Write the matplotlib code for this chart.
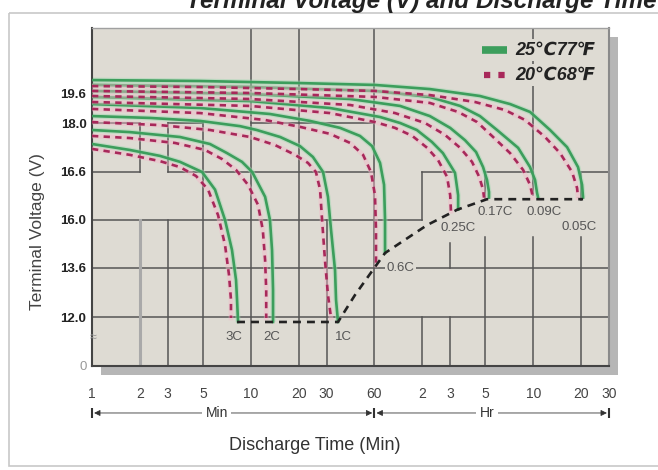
import numpy as np
import matplotlib
matplotlib.use('Agg')
import matplotlib.pyplot as plt
from matplotlib.patches import Rectangle

plt.rcParams['font.family'] = ['Liberation Sans', 'DejaVu Sans']

# ---------------- axis definitions ----------------
x_ticks = [1, 2, 3, 5, 10, 20, 30, 60, 120, 180, 300, 600, 1200, 1800]
x_tick_labels = ['1', '2', '3', '5', '10', '20', '30', '60', '2', '3', '5', '10', '20', '30']
y_ticks = [0, 12.0, 13.6, 16.0, 16.6, 18.0, 19.6]
y_tick_labels = ['0', '12.0', '13.6', '16.0', '16.6', '18.0', '19.6']
# the original voltage axis is not linear: value -> grid position
volt_knots = [0, 12.0, 13.6, 16.0, 16.6, 18.0, 19.6, 23.07]
grid_pos = [0, 49, 98, 146, 194, 243, 273, 338]

# ---------------- data (time in minutes, voltage) ----------------
rates = ['0.05C', '0.09C', '0.17C', '0.25C', '0.6C', '1C', '2C', '3C']

# 25C / 77F (green, solid)
g005_t = [1, 4.8, 20.4, 60.5, 134, 277, 429, 573, 766, 980, 1149, 1218, 1236]
g005_v = [20.29, 20.24, 20.13, 20.03, 19.81, 19.44, 19.01, 18.59, 17.80, 17.31, 16.74, 16.44, 16.28]
g009_t = [1, 9.9, 60.5, 134, 208, 277, 355, 482, 573, 616, 634, 644]
g009_v = [20.03, 19.92, 19.71, 19.39, 18.91, 18.37, 17.80, 17.29, 16.74, 16.50, 16.34, 16.28]
g017_t = [1, 9.9, 42.2, 87.1, 134, 180, 223, 262, 290, 307, 316, 316]
g017_v = [19.71, 19.55, 19.28, 18.91, 18.37, 17.86, 17.51, 17.17, 16.74, 16.50, 16.35, 16.28]
g025_t = [1, 9.9, 31.5, 65.1, 87.1, 111, 138, 162, 193, 202, 202]
g025_v = [19.39, 19.17, 18.80, 18.32, 18.00, 17.80, 17.46, 17.14, 16.59, 16.31, 16.13]
g06_t = [1, 4.8, 13.2, 23.6, 36.5, 48.7, 58.0, 65.1, 69.0, 70.0, 70.0]
g06_v = [19.01, 18.80, 18.48, 18.11, 17.86, 17.63, 17.34, 16.86, 16.44, 16.00, 14.35]
g1_t = [1, 2.32, 4.8, 8.55, 10.9, 15.3, 20.4, 24.6, 28.5, 30.6, 32.0, 33.9, 34.4, 35.4]
g1_v = [18.37, 18.27, 18.11, 17.91, 17.80, 17.60, 17.34, 17.03, 16.60, 16.29, 15.50, 13.53, 12.56, 10.78]
g2_t = [1, 1.73, 3.58, 5.53, 7.08, 8.80, 10.2, 12.3, 13.2, 13.6, 13.8, 13.8]
g2_v = [17.80, 17.74, 17.60, 17.40, 17.14, 16.89, 16.60, 16.29, 16.00, 14.50, 12.88, 10.78]
g3_t = [1, 1.73, 2.68, 3.58, 4.93, 5.95, 6.88, 7.61, 8.07, 8.19, 8.31]
g3_v = [17.40, 17.23, 17.06, 16.89, 16.60, 16.38, 16.00, 14.50, 13.21, 12.56, 10.78]

# 20C / 68F (red, dashed)
r005_t = [1, 4.8, 20.4, 60.5, 134, 258, 399, 533, 712, 885, 1054, 1133, 1149]
r005_v = [19.97, 19.92, 19.81, 19.71, 19.49, 19.12, 18.69, 18.16, 17.60, 17.14, 16.60, 16.40, 16.28]
r009_t = [1, 9.9, 60.5, 134, 202, 266, 330, 429, 518, 573, 598]
r009_v = [19.71, 19.60, 19.39, 19.07, 18.59, 18.05, 17.63, 17.14, 16.66, 16.44, 16.28]
r017_t = [1, 9.9, 42.2, 80.9, 125, 167, 208, 247, 274, 290, 294]
r017_v = [19.44, 19.28, 18.96, 18.53, 18.00, 17.66, 17.29, 16.89, 16.54, 16.38, 16.28]
r025_t = [1, 9.9, 31.5, 60.5, 80.9, 104, 129, 151, 172, 180, 182]
r025_v = [19.12, 18.91, 18.53, 18.05, 17.86, 17.63, 17.29, 16.94, 16.54, 16.31, 16.11]
r06_t = [1, 4.8, 12.3, 20.4, 31.5, 42.2, 50.9, 57.1, 60.5, 61.4, 61.4]
r06_v = [18.75, 18.53, 18.16, 17.89, 17.69, 17.43, 17.09, 16.60, 16.31, 15.50, 13.75]
r1_t = [1, 2.68, 5.53, 9.9, 14.2, 19.0, 22.9, 25.7, 27.3, 28.1, 29.3, 30.6, 32.0]
r1_v = [18.05, 17.94, 17.80, 17.60, 17.37, 17.09, 16.86, 16.60, 16.38, 16.00, 14.00, 12.72, 11.76]
r2_t = [1, 1.73, 3.33, 5.15, 6.59, 8.07, 9.60, 11.1, 11.9, 12.3, 12.5, 12.5]
r2_v = [17.63, 17.57, 17.43, 17.23, 16.97, 16.66, 16.44, 16.19, 15.50, 14.00, 12.88, 11.76]
r3_t = [1, 1.73, 2.68, 3.58, 4.52, 5.38, 6.22, 6.88, 7.29, 7.50, 7.50]
r3_v = [17.26, 17.09, 16.91, 16.74, 16.55, 16.38, 16.06, 14.75, 13.37, 12.56, 11.76]

# end-of-discharge line
cut_t = [8.19, 35.4, 45.3, 60.5, 70.0, 129, 200, 307, 1236]
cut_v = [10.78, 10.78, 12.72, 13.65, 14.35, 15.75, 16.13, 16.26, 16.26]

green_curves = [(g005_t, g005_v), (g009_t, g009_v), (g017_t, g017_v), (g025_t, g025_v),
                (g06_t, g06_v), (g1_t, g1_v), (g2_t, g2_v), (g3_t, g3_v)]
red_curves = [(r005_t, r005_v), (r009_t, r009_v), (r017_t, r017_v), (r025_t, r025_v),
              (r06_t, r06_v), (r1_t, r1_v), (r2_t, r2_v), (r3_t, r3_v)]

# label anchor (time, voltage) for each rate
label_t = [1167, 702, 345, 202, 87.1, 38.1, 13.6, 7.8]
label_v = [15.65, 16.10, 16.10, 15.60, 13.62, 7.1, 7.1, 7.1]

# ---------------- figure ----------------
BG = '#dedbd3'
GRID = '#555555'
GREEN = '#3c9e5c'
RED = '#a8285a'
W, H = 658, 470
fig = plt.figure(figsize=(W / 100, H / 100), dpi=100)

# decoration layer in pixel coordinates
deco = fig.add_axes([0, 0, 1, 1], zorder=0)
deco.set_xlim(0, W)
deco.set_ylim(H, 0)
deco.axis('off')
deco.add_patch(Rectangle((9, 13), 700, 453, fill=False, ec='#c8c8c8', lw=1.2))
deco.add_patch(Rectangle((101, 37), 517, 338, fc='#b6b6b6', ec='none'))
deco.text(186, 8, 'Terminal Voltage (V) and Discharge Time', fontsize=17.5,
          fontweight='bold', fontstyle='italic', color='#222222', va='baseline')

L, R, T, B = 92, 609, 28, 366
ax = fig.add_axes([L / W, (H - B) / H, (R - L) / W, (B - T) / H], zorder=1)
ax.set_facecolor(BG)
ax.set_xscale('log')
ax.set_yscale('function', functions=(lambda v: np.interp(v, volt_knots, grid_pos),
                                     lambda p: np.interp(p, grid_pos, volt_knots)))
ax.set_xlim(1, 1800)
ytop = volt_knots[-1]
ax.set_ylim(0, ytop)

# irregular grid of the original chart
hsegs = [(12.0, 1, 1800), (13.6, 1, 1800), (16.0, 1, 120), (16.6, 1, 2), (16.6, 3, 60),
         (16.6, 120, 190), (16.6, 300, 600), (16.6, 1200, 1800), (18.0, 1, 2),
         (18.0, 3, 5), (18.0, 10, 60)]
vsegs = [(2, 16.6, 18.0), (3, 16.6, 18.0), (3, 0, 16.0), (5, 0, 18.0), (10, 0, ytop),
         (20, 0, ytop), (30, 0, 16.0), (60, 0, ytop), (120, 16.0, 16.6), (120, 0, 12.0),
         (180, 13.6, 14.85), (180, 0, 12.0), (300, 16.25, 16.6), (300, 0, 15.15),
         (600, 16.31, ytop), (600, 0, 15.15), (1200, 16.25, 16.6), (1200, 0, 15.15)]
for yv, x0, x1 in hsegs:
    ax.plot([x0, x1], [yv, yv], color=GRID, lw=1.1, zorder=1)
for xv, y0, y1 in vsegs:
    ax.plot([xv, xv], [y0, y1], color=GRID, lw=1.1, zorder=1)
ax.plot([2, 2], [0, 16.0], color='#a9a9a9', lw=2.2, zorder=1)

for t, v in green_curves:
    ax.plot(t, v, color='#9fd8b0', lw=3.6, alpha=0.5, zorder=2, solid_capstyle='butt')
    ax.plot(t, v, color=GREEN, lw=1.9, zorder=3)
for t, v in red_curves:
    ax.plot(t, v, color='#f2b8c8', lw=3.4, alpha=0.45, zorder=4)
    ax.plot(t, v, color=RED, lw=1.9, dashes=(2.4, 2.0), zorder=5)
ax.plot(cut_t, cut_v, color='#222222', lw=1.9, dashes=(3.0, 2.3), zorder=6)

for name, lt, lv in zip(rates, label_t, label_v):
    ax.text(lt, lv, name, fontsize=9.5, color='#555555', ha='center', va='center', zorder=7,
            bbox=dict(fc=BG, ec='none', pad=1.0))
ax.text(1.02, 6.9, '≈', fontsize=9, color='#999999', ha='center', va='center', zorder=7)

# ticks
ax.set_xticks(x_ticks)
ax.set_xticklabels(x_tick_labels)
ax.xaxis.set_minor_locator(matplotlib.ticker.NullLocator())
ax.set_yticks(y_ticks)
ax.set_yticklabels(y_tick_labels)
ax.yaxis.set_minor_locator(matplotlib.ticker.NullLocator())
ax.tick_params(axis='x', length=0, pad=15, labelsize=10, labelcolor='#444444')
ax.tick_params(axis='y', length=0, pad=4, labelsize=9.5, labelcolor='#222222')
for lab in ax.get_yticklabels():
    lab.set_fontweight('bold')
ax.get_yticklabels()[0].set_fontweight('normal')
ax.get_yticklabels()[0].set_color('#999999')

for side, col, lw in [('left', '#444444', 1.5), ('bottom', '#444444', 1.5),
                      ('top', '#a0a0a0', 1.0), ('right', '#8a8a8a', 1.5)]:
    ax.spines[side].set_color(col)
    ax.spines[side].set_linewidth(lw)

# Min / Hr span arrows
tr = ax.get_xaxis_transform()
ya = -0.139
for a, b in [(1, 60), (60, 1800)]:
    ax.annotate('', xy=(a, ya), xytext=(b, ya), xycoords=tr, textcoords=tr,
                arrowprops=dict(arrowstyle='<|-|>', color='#333333', lw=0.6,
                                mutation_scale=9, shrinkA=1.5, shrinkB=1.5),
                annotation_clip=False)
ax.plot([1, 60, 1800], [ya] * 3, transform=tr, ls='none', marker='|', ms=7, mew=1.5,
        color='#333333', clip_on=False)
ax.text(6.1, ya, 'Min', transform=tr, ha='center', va='center', fontsize=10,
        color='#333333', bbox=dict(fc='white', ec='none', pad=2.5))
ax.text(307, ya, 'Hr', transform=tr, ha='center', va='center', fontsize=10,
        color='#333333', bbox=dict(fc='white', ec='none', pad=2.5))

fig.text(315 / W, 1 - 445 / H, 'Discharge Time (Min)', ha='center', va='center',
         fontsize=13, color='#333333')
fig.text(38 / W, 1 - 232 / H, 'Terminal Voltage (V)', ha='center', va='center',
         rotation=90, fontsize=12.5, color='#444444')

# legend
lx0, lx1, ltx = 0.754, 0.803, 0.818
ly1, ly2 = (B - 50) / (B - T), (B - 75) / (B - T)
ax.plot([lx0, lx1], [ly1, ly1], transform=ax.transAxes, color=GREEN, lw=5.5,
        solid_capstyle='butt', zorder=8)
ax.plot([lx0 + 0.004, lx1], [ly2, ly2], transform=ax.transAxes, color=RED, lw=4.5,
        dashes=(1.0, 1.3), zorder=8)
for yy, txt in [(ly1, '25℃77℉'), (ly2, '20℃68℉')]:
    ax.text(ltx, yy, txt, transform=ax.transAxes, fontsize=13, fontweight='bold',
            fontstyle='italic', color='#222222', va='center', ha='left', zorder=8,
            family=['Liberation Sans', 'DejaVu Sans'],
            bbox=dict(fc=BG, ec='none', pad=1.5))

fig.savefig('out.png', dpi=100)
